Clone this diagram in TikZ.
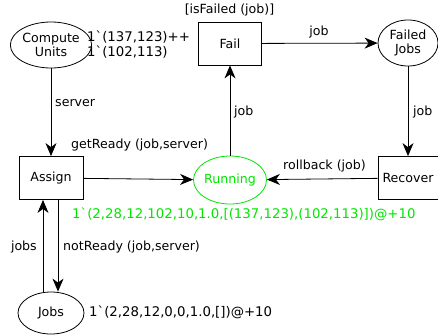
\documentclass[tikz,border=0pt]{standalone}
\usepackage{fontspec}
\setmainfont{DejaVu Sans}[Ligatures=TeXOff]
\usetikzlibrary{shapes.geometric,arrows.meta}
\definecolor{runcol}{RGB}{0,230,0}
\tikzset{
  txt/.style={font=\fontsize{12.6}{14}\selectfont},
  marktxt/.style={font=\fontsize{13.3}{15}\selectfont},
  place/.style={ellipse,draw,line width=0.8pt,inner sep=0pt,align=center,txt},
  trans/.style={rectangle,draw,line width=0.8pt,inner sep=0pt,align=center,txt},
  arc/.style={draw,line width=0.8pt,-{Stealth[length=13pt,width=11pt,inset=4pt]}},
  lbl/.style={inner sep=0pt,txt},
  tokens/.style={inner sep=0pt,anchor=west,align=left,marktxt},
}
\begin{document}
\begin{tikzpicture}[x=1pt,y=-1pt]
\useasboundingbox (0,0) rectangle (438,335);
% places
\node[place,minimum width=68,minimum height=46] (cu) at (51,45) {Compute\\Units};
\node[place,minimum width=60,minimum height=46] (fj) at (408,43) {Failed\\Jobs};
\node[place,draw=runcol,text=runcol,minimum width=65,minimum height=48] (run) at (230,180) {Running};
\node[place,minimum width=66,minimum height=42] (jobs) at (51,313) {Jobs};
% transitions
\node[trans,minimum width=64,minimum height=43] (assign) at (51,178) {Assign};
\node[trans,minimum width=63,minimum height=43] (fail) at (230,43.5) {Fail};
\node[trans,minimum width=60,minimum height=43] (rec) at (408,178) {Recover};
% arcs
\draw[arc] (cu) -- (assign);
\draw[arc] (assign) -- (run);
\draw[arc] (rec) -- (run);
\draw[arc] (run) -- (fail);
\draw[arc] (fail) -- (fj);
\draw[arc] (fj) -- (rec);
\draw[arc] ([xshift=-8pt]jobs.north) -- ([xshift=-8pt]assign.south);
\draw[arc] ([xshift=7pt]assign.south) -- ([xshift=7pt]jobs.north);
% inscriptions
\node[lbl,anchor=west] (l1) at (55,103) {server};
\node[lbl] (l2) at (319,32) {job};
\node[lbl,anchor=west] (l3) at (413,112) {job};
\node[lbl,anchor=west] (l4) at (234,112) {job};
\node[lbl] (l5) at (324.5,166) {rollback (job)};
\node[lbl,anchor=west] (l6) at (71,145) {getReady (job,server)};
\node[lbl,anchor=east] (l7) at (37,247) {jobs};
\node[lbl,anchor=west] (l8) at (63,247) {notReady (job,server)};
\node[lbl] (guard) at (229.5,10) {[isFailed (job)]};
% markings
\node[tokens] (m1) at (87,45) {1`(137,123)++\\1`(102,113)};
\node[tokens,text=runcol] (m2) at (72,214) {1`(2,28,12,102,10,1.0,[(137,123),(102,113)])@+10};
\node[tokens] (m3) at (89,312) {1`(2,28,12,0,0,1.0,[])@+10};
\end{tikzpicture}
\end{document}
